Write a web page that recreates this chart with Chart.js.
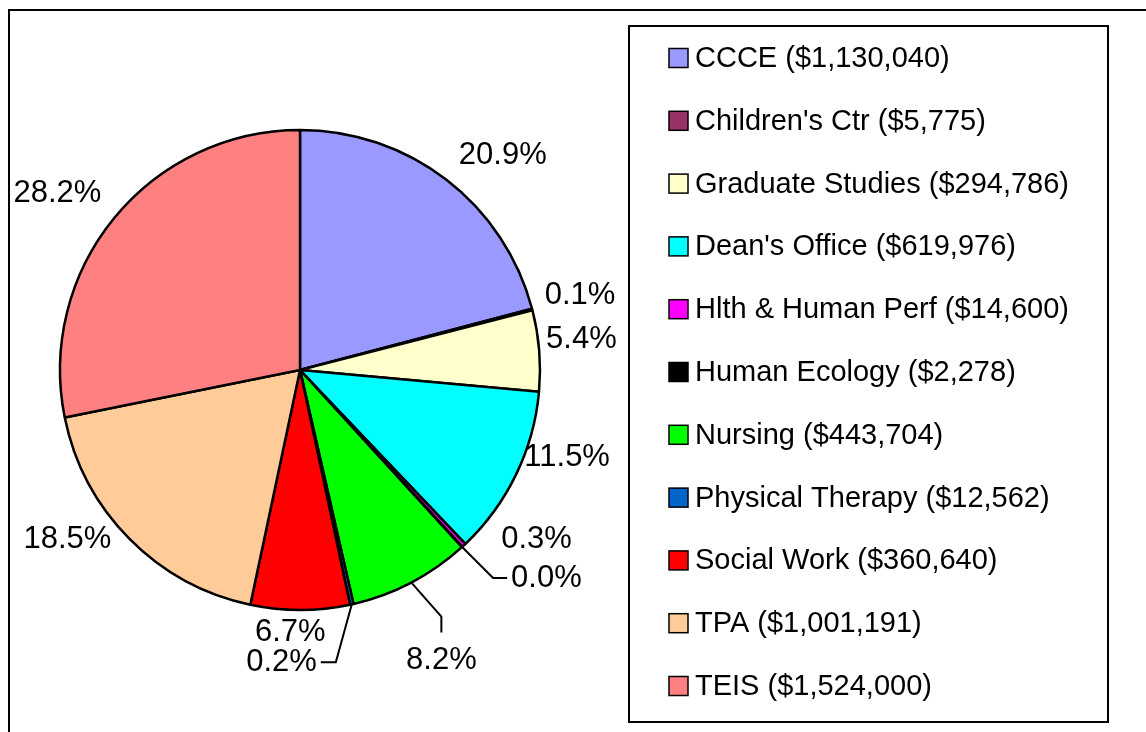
<!DOCTYPE html>
<html>
<head>
<meta charset="utf-8">
<script src="https://cdn.jsdelivr.net/npm/chart.js@4/dist/chart.umd.min.js"></script>
<style>
  html, body { margin: 0; padding: 0; background: #fff; }
  #wrap { width: 1146px; height: 732px; }
</style>
</head>
<body>
<div id="wrap"><canvas id="budgetPie" width="1146" height="732"></canvas></div>
<script>
const departments = ['CCCE', "Children's Ctr", 'Graduate Studies', "Dean's Office", 'Hlth & Human Perf',
    'Human Ecology', 'Nursing', 'Physical Therapy', 'Social Work', 'TPA', 'TEIS'];
const amounts = [1130040, 5775, 294786, 619976, 14600, 2278, 443704, 12562, 360640, 1001191, 1524000];
const sliceColors = ['#9999FF', '#993366', '#FFFFCC', '#00FFFF', '#FF00FF', '#000000',
    '#00FF00', '#0066CC', '#FF0000', '#FFCC99', '#FF8080'];

// label tweaks (px) relative to the automatic spot outside the slice
const labelNudge = [[21, -5], [0, -8], [-7, -9], [0, -28], [39, -24], null, null, null, [-10, -3], [-21, -17], [-12, -9]];
// slices whose label hangs on a leader line: [elbow dx, dy, end dx, dy, text align]
const leaders = {
    5: [31, 31, 14, 0, 'left'],
    6: [30, 34, 0, 16, 'center'],
    7: [-16, 58, -15, 0, 'right']
};

const total = amounts.reduce((a, b) => a + b, 0);
const FONT = '"Liberation Sans", Arial, sans-serif';

const extras = {
    id: 'extras',
    beforeDraw(chart) {
        const ctx = chart.ctx;
        ctx.save();
        ctx.strokeStyle = '#000';
        ctx.lineWidth = 2;
        ctx.strokeRect(9, 10, 1300, 900);
        ctx.restore();
    },
    afterDatasetsDraw(chart) {
        const ctx = chart.ctx;
        const arcs = chart.getDatasetMeta(0).data;
        ctx.save();
        ctx.font = '31px ' + FONT;
        ctx.fillStyle = '#000';
        ctx.strokeStyle = '#000';
        ctx.lineWidth = 2;
        ctx.textBaseline = 'middle';
        arcs.forEach((arc, i) => {
            const text = (amounts[i] / total * 100).toFixed(1) + '%';
            const mid = (arc.startAngle + arc.endAngle) / 2;
            const r = arc.outerRadius;
            const cos = Math.cos(mid), sin = Math.sin(mid);
            if (leaders[i]) {
                const [ex, ey, tx, ty, align] = leaders[i];
                const px = arc.x + r * cos, py = arc.y + r * sin;
                const bx = px + ex, by = py + ey;
                const qx = bx + tx, qy = by + ty;
                ctx.beginPath();
                ctx.moveTo(px, py);
                ctx.lineTo(bx, by);
                ctx.lineTo(qx, qy);
                ctx.stroke();
                ctx.textAlign = align;
                if (align === 'left') ctx.fillText(text, qx + 4, qy);
                else if (align === 'right') ctx.fillText(text, qx - 4, qy);
                else ctx.fillText(text, qx, qy + 28);
                return;
            }
            const w = ctx.measureText(text).width;
            const h = 22;
            let cx = arc.x + (r + 14) * cos + w / 2 * cos;
            let cy = arc.y + (r + 14) * sin + h / 2 * sin;
            const n = labelNudge[i] || [0, 0];
            ctx.textAlign = 'center';
            ctx.fillText(text, cx + n[0], cy + n[1]);
        });
        ctx.restore();
    },
    afterDraw(chart) {
        const ctx = chart.ctx;
        ctx.save();
        ctx.strokeStyle = '#000';
        ctx.lineWidth = 2;
        ctx.strokeRect(629, 26, 479, 696);
        ctx.font = '29px ' + FONT;
        ctx.textBaseline = 'middle';
        ctx.textAlign = 'left';
        departments.forEach((name, i) => {
            const y = 58 + i * 62.8;
            ctx.fillStyle = sliceColors[i];
            ctx.fillRect(669, y - 9.5, 19, 19);
            ctx.lineWidth = 1.5;
            ctx.strokeRect(669, y - 9.5, 19, 19);
            ctx.fillStyle = '#000';
            ctx.fillText(name + ' ($' + amounts[i].toLocaleString('en-US') + ')', 695, y + 1);
        });
        ctx.restore();
    }
};

new Chart(document.getElementById('budgetPie'), {
    type: 'pie',
    data: {
        labels: departments,
        datasets: [{
            data: amounts,
            backgroundColor: sliceColors,
            borderColor: '#000',
            borderWidth: 2.5
        }]
    },
    options: {
        responsive: false,
        animation: false,
        radius: 240,
        layout: { padding: { left: 60, right: 606, top: 130, bottom: 122 } },
        plugins: {
            legend: { display: false },
            tooltip: { enabled: false }
        }
    },
    plugins: [extras]
});
</script>
</body>
</html>
